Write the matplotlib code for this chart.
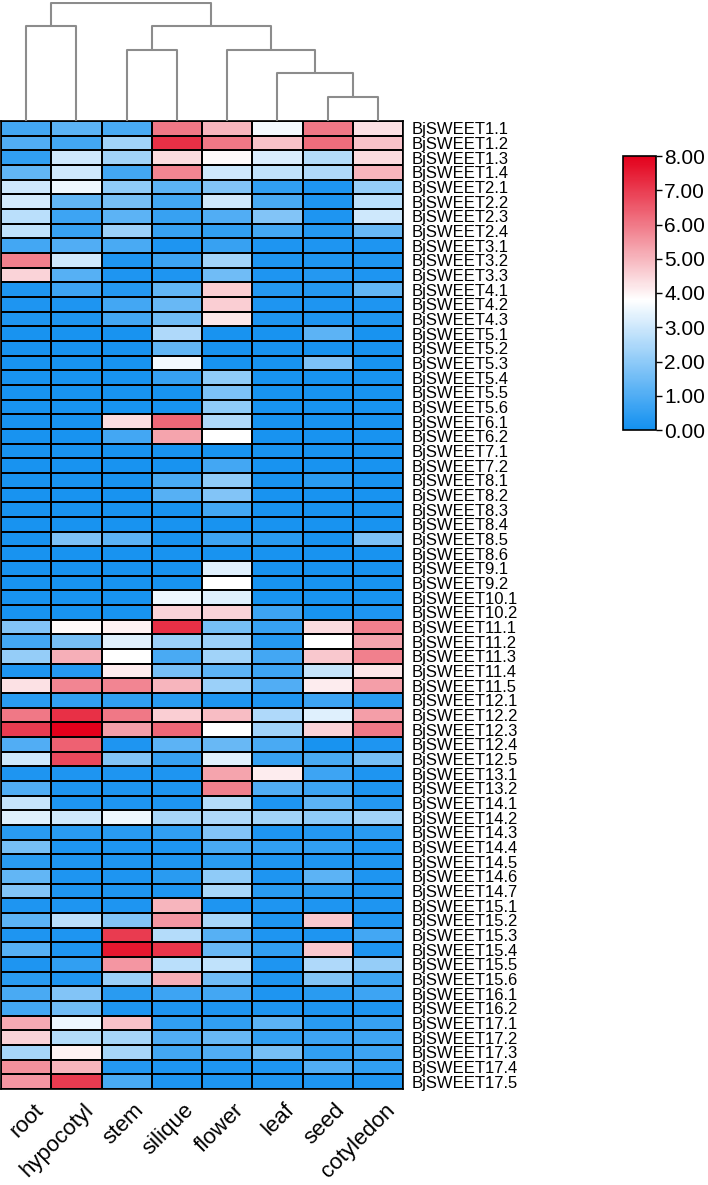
import matplotlib
matplotlib.use("Agg")
import matplotlib.pyplot as plt
import matplotlib.transforms as mtransforms
from matplotlib.colors import LinearSegmentedColormap
import numpy as np

plt.rcParams['font.family'] = ['Liberation Sans', 'DejaVu Sans']

tissues = ["root", "hypocotyl", "stem", "silique", "flower", "leaf", "seed", "cotyledon"]

# gene family sizes -> BjSWEET1.1 ... BjSWEET17.5
family_sizes = [4, 4, 3, 3, 6, 2, 2, 6, 2, 2, 5, 5, 2, 7, 6, 2, 5]
genes = ["BjSWEET%d.%d" % (f + 1, k + 1) for f, n in enumerate(family_sizes) for k in range(n)]

# expression values per tissue (one value per gene, top to bottom)
root = [0.8, 1.0, 0.5, 1.3, 3.0, 3.1, 2.7, 2.8, 0.8, 5.9, 4.5, 0.2, 0.2, 0.2,
        0.1, 0.1, 0.1, 0.1, 0.1, 0.1, 0.1, 0.1, 0.1, 0.1, 0.1, 0.1, 0.1, 0.1, 0.1, 0.1,
        0.1, 0.1, 0.1, 0.1,
        1.8, 0.8, 2.1, 0.2, 4.3, 0.4, 6.0, 7.0, 1.0, 3.0, 0.2, 1.0, 2.9, 3.3, 0.4, 1.6,
        0.4, 1.3, 1.8, 0.2, 1.2, 0.2, 1.1, 0.2, 0.4, 0.9, 0.8, 5.2, 4.5, 2.4, 5.6, 5.5]
hypocotyl = [1.2, 0.8, 3.0, 3.0, 3.5, 1.3, 0.7, 0.6, 1.0, 3.0, 1.1, 0.7, 0.2, 0.2,
             0.1, 0.1, 0.1, 0.1, 0.1, 0.1, 0.1, 0.1, 0.1, 0.1, 0.1, 0.1, 0.1, 0.1,
             1.7, 0.1, 0.1, 0.1, 0.1, 0.1,
             3.9, 1.6, 5.1, 0.3, 5.8, 0.5, 7.2, 8.0, 6.4, 6.8, 0.2, 0.2, 0.2, 3.0, 0.4, 0.2,
             0.2, 0.2, 0.2, 0.2, 2.7, 0.2, 0.2, 0.5, 0.2, 1.8, 1.5, 3.5, 2.6, 4.0, 5.0, 7.0]
stem = [0.9, 2.3, 2.3, 0.8, 2.0, 1.6, 1.2, 2.2, 0.9, 0.2, 0.2, 0.3, 0.8, 0.8,
        0.1, 0.1, 0.1, 0.1, 0.1, 0.1, 4.4, 0.8, 0.1, 0.1, 0.1, 0.1, 0.1, 0.1,
        1.2, 0.1, 0.1, 0.1, 0.1, 0.1,
        4.0, 3.3, 3.8, 4.1, 5.8, 0.5, 6.0, 5.4, 0.2, 1.8, 0.2, 0.2, 0.2, 3.5, 0.4, 0.2,
        0.2, 0.2, 0.2, 0.2, 1.8, 7.0, 7.6, 5.5, 2.2, 0.4, 0.2, 4.8, 2.4, 2.4, 0.3, 0.9]
silique = [6.0, 7.2, 4.4, 5.8, 1.2, 0.8, 0.6, 0.6, 0.2, 0.7, 0.2, 1.3, 1.4, 1.5,
           2.5, 1.3, 3.6, 0.6, 0.1, 0.1, 6.3, 5.3, 0.1, 0.1, 0.9, 1.1, 0.1, 0.1,
           0.1, 0.1, 0.1, 0.1, 3.5, 4.5,
           7.2, 2.2, 0.9, 1.6, 5.0, 0.4, 4.6, 6.3, 1.2, 0.6, 0.2, 0.2, 0.2, 2.4, 0.5, 0.2,
           0.2, 0.4, 0.2, 5.0, 5.5, 2.6, 7.1, 2.7, 5.1, 0.7, 0.2, 0.5, 1.0, 0.8, 0.2, 0.2]
flower = [5.0, 6.0, 3.9, 3.0, 1.8, 3.0, 1.0, 0.5, 0.6, 2.3, 1.5, 4.6, 4.6, 4.2,
          0.1, 0.1, 0.1, 2.0, 1.7, 2.0, 2.5, 3.8, 0.1, 0.8, 2.0, 1.8, 0.8, 0.1,
          0.7, 0.1, 3.3, 3.8, 3.3, 4.5,
          1.6, 2.2, 2.3, 1.2, 2.2, 0.2, 4.9, 3.8, 1.4, 3.3, 5.3, 5.9, 2.6, 2.5, 1.8, 0.9,
          0.4, 2.0, 2.4, 0.2, 2.4, 1.1, 1.4, 2.8, 1.5, 0.8, 0.2, 0.5, 1.4, 1.0, 0.2, 0.2]
leaf = [3.6, 4.8, 3.2, 2.8, 0.5, 0.9, 1.8, 0.8, 0.2, 0.2, 0.2, 0.3, 0.2, 0.2,
        0.1, 0.1, 0.1, 0.1, 0.1, 0.1, 0.1, 0.1, 0.1, 0.1, 0.1, 0.1, 0.1, 0.1,
        0.4, 0.1, 0.1, 0.1, 0.1, 0.7,
        0.6, 0.3, 0.8, 0.7, 1.0, 0.2, 2.5, 2.3, 0.9, 0.6, 4.1, 1.0, 0.2, 2.3, 0.2, 0.5,
        0.2, 0.2, 0.4, 0.2, 0.2, 0.2, 0.5, 0.2, 0.2, 0.2, 0.2, 1.2, 0.5, 1.6, 0.2, 0.2]
seed = [6.0, 6.2, 2.6, 2.5, 0.2, 0.2, 0.2, 0.3, 0.2, 0.2, 0.3, 0.3, 0.2, 0.2,
        1.2, 0.1, 1.7, 0.1, 0.1, 0.1, 0.1, 0.1, 0.1, 0.1, 0.4, 0.1, 0.1, 0.1,
        0.1, 0.1, 0.1, 0.1, 0.1, 0.1,
        4.4, 3.8, 4.7, 2.9, 4.1, 0.7, 3.3, 4.5, 0.1, 0.9, 0.7, 0.7, 1.2, 2.0, 0.3, 0.5,
        0.2, 1.2, 0.4, 0.2, 4.7, 0.2, 4.7, 2.5, 1.8, 0.4, 0.2, 0.4, 0.7, 0.5, 1.0, 0.2]
cotyledon = [4.3, 4.8, 4.4, 5.0, 2.1, 2.7, 3.0, 1.4, 0.2, 0.2, 0.2, 1.3, 0.2, 0.2,
             0.1, 0.1, 0.1, 0.1, 0.1, 0.1, 0.1, 0.1, 0.1, 0.1, 0.1, 0.1, 0.1, 0.1,
             1.7, 0.1, 0.1, 0.1, 0.1, 0.2,
             5.9, 5.3, 5.9, 4.2, 5.4, 0.4, 5.4, 6.0, 0.2, 1.6, 0.2, 0.2, 0.3, 2.3, 0.4, 0.2,
             0.2, 0.2, 0.2, 0.2, 0.2, 0.8, 0.2, 2.1, 0.7, 0.7, 0.2, 0.6, 0.7, 0.7, 0.5, 0.2]

# column dendrogram: (left, right, height); new clusters numbered from 8 up
merges = [(6, 7, 23.7),    # seed + cotyledon
          (5, 8, 47.7),    # leaf
          (4, 9, 71.0),    # flower
          (2, 3, 71.0),    # stem + silique
          (11, 10, 95.3),
          (0, 1, 95.3),    # root + hypocotyl
          (13, 12, 118.3)]

data = np.array([root, hypocotyl, stem, silique, flower, leaf, seed, cotyledon]).T

cmap = LinearSegmentedColormap.from_list(
    "bwr_tb", [(0.0, "#1290f0"), (0.475, "#ffffff"), (1.0, "#e3001b")])

W, H = 708, 1185
fig = plt.figure(figsize=(W / 100, H / 100), dpi=100)

# heatmap
ax = fig.add_axes([1 / W, (H - 1089) / H, 402 / W, 968 / H])
ax.pcolormesh(data, cmap=cmap, vmin=0, vmax=8, edgecolors="black", linewidth=1.1)
ax.set_xlim(0, len(tissues))
ax.set_ylim(len(genes), 0)
ax.set_yticks(np.arange(len(genes)) + 0.5)
ax.set_yticklabels(genes, fontsize=12)
ax.yaxis.tick_right()
ax.tick_params(axis="y", length=0, pad=6)
ax.set_xticks(np.arange(len(tissues)) + 0.5)
ax.set_xticklabels(tissues, fontsize=16, rotation=45, ha="right", va="center",
                   rotation_mode="anchor")
ax.tick_params(axis="x", length=0, pad=13)
offset = mtransforms.ScaledTranslation(0.14, 0, fig.dpi_scale_trans)
for lab in ax.get_xticklabels():
    lab.set_transform(lab.get_transform() + offset)
for s in ax.spines.values():
    s.set_linewidth(1.2)

# dendrogram on top
dax = fig.add_axes([1 / W, (H - 121) / H, 402 / W, 119 / H])
pos = {i: i + 0.5 for i in range(len(tissues))}
hgt = {i: 0.0 for i in range(len(tissues))}
for k, (a, b, h) in enumerate(merges):
    dax.plot([pos[a], pos[a], pos[b], pos[b]], [hgt[a], h, h, hgt[b]],
             color="#8c8c8c", lw=1.5, solid_capstyle="butt")
    pos[len(tissues) + k] = (pos[a] + pos[b]) / 2
    hgt[len(tissues) + k] = h
dax.set_xlim(0, len(tissues))
dax.set_ylim(0, 119)
dax.axis("off")

# colour bar
cax = fig.add_axes([623 / W, (H - 430) / H, 33 / W, 274 / H])
sm = plt.cm.ScalarMappable(cmap=cmap, norm=plt.Normalize(0, 8))
cb = fig.colorbar(sm, cax=cax, ticks=np.arange(0, 9, 1))
cb.ax.set_yticklabels(["%.2f" % t for t in range(9)], fontsize=15)
cb.ax.tick_params(length=4, width=1, pad=2)
cb.outline.set_linewidth(1.2)

fig.savefig("out.png", dpi=100)
